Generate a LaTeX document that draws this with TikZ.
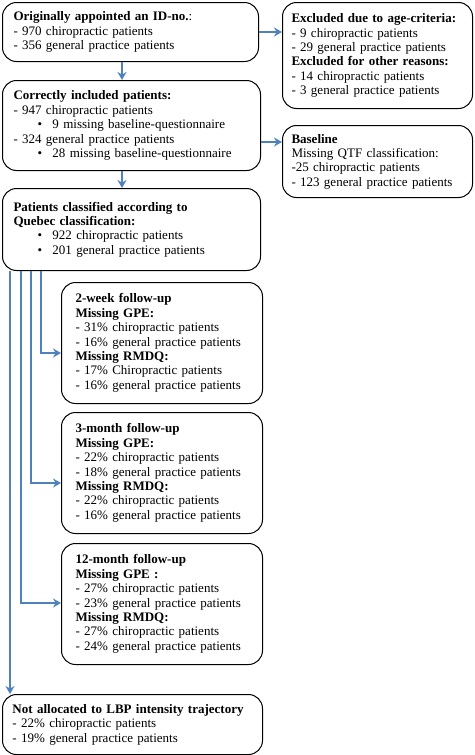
\documentclass[tikz,border=0pt]{standalone}
\usepackage{fontspec}
\setmainfont{Liberation Serif}
\usetikzlibrary{arrows.meta}

\definecolor{flowblue}{HTML}{4F81BD}

\newcommand{\bitem}{\hspace*{24pt}\makebox[15pt][l]{\textbullet}}

\tikzset{
  flowbox/.style={draw, line width=1pt, rounded corners=14pt, align=left,
    anchor=north west, inner xsep=11pt, inner ysep=2pt,
    font=\fontsize{13}{14.4}\selectfont},
  flowarrow/.style={draw=flowblue, line width=2.2pt,
    -{Stealth[length=8pt,width=9pt]}}
}

\begin{document}
\begin{tikzpicture}[x=1pt,y=-1pt]
  \useasboundingbox (0,0) rectangle (474,755);

  %%%% left column
  \node[flowbox, text width=234pt, minimum height=59pt] (orig) at (2,2)
    {\textbf{Originally appointed an ID-no.}:\\
     - 970 chiropractic patients\\
     - 356 general practice patients};

  \node[flowbox, text width=236pt, minimum height=90pt] (incl) at (2,80)
    {\textbf{Correctly included patients:}\\
     - 947 chiropractic patients\\
     \bitem 9 missing baseline-questionnaire\\
     - 324 general practice patients\\
     \bitem 28 missing baseline-questionnaire};

  \node[flowbox, text width=236pt, minimum height=82pt] (quebec) at (2,188)
    {\textbf{Patients classified according to}\\
     \textbf{Quebec classification:}\\
     \bitem 922 chiropractic patients\\
     \bitem 201 general practice patients};

  %%%% right column
  \node[flowbox, inner xsep=9pt, text width=172pt, minimum height=106pt] (excl) at (282,2)
    {\textbf{Excluded due to age-criteria:}\\
     - 9 chiropractic patients\\
     - 29 general practice patients\\
     \textbf{Excluded for other reasons:}\\
     - 14 chiropractic patients\\
     - 3 general practice patients};

  \node[flowbox, inner xsep=9pt, text width=172pt, minimum height=72pt] (base) at (282,125)
    {\textbf{Baseline}\\
     Missing QTF classification:\\
     -25 chiropractic patients\\
     - 123 general practice patients};

  %%%% follow-up
  \node[flowbox, inner xsep=14pt, text width=173pt, minimum height=121pt] (fuweek) at (61,282)
    {\textbf{2-week follow-up}\\
     \textbf{Missing GPE:}\\
     - 31\% chiropractic patients\\
     - 16\% general practice patients\\
     \textbf{Missing RMDQ:}\\
     - 17\% Chiropractic patients\\
     - 16\% general practice patients};

  \node[flowbox, inner xsep=14pt, text width=173pt, minimum height=121pt] (fumonth) at (61,412)
    {\textbf{3-month follow-up}\\
     \textbf{Missing GPE:}\\
     - 22\% chiropractic patients\\
     - 18\% general practice patients\\
     \textbf{Missing RMDQ:}\\
     - 22\% chiropractic patients\\
     - 16\% general practice patients};

  \node[flowbox, inner xsep=14pt, text width=173pt, minimum height=121pt] (fuyear) at (61,543)
    {\textbf{12-month follow-up}\\
     \textbf{Missing GPE :}\\
     - 27\% chiropractic patients\\
     - 23\% general practice patients\\
     \textbf{Missing RMDQ:}\\
     - 27\% chiropractic patients\\
     - 24\% general practice patients};

  \node[flowbox, inner xsep=10pt, text width=240pt, minimum height=60pt] (notalloc) at (2,694)
    {\textbf{Not allocated to LBP intensity trajectory}\\
     - 22\% chiropractic patients\\
     - 19\% general practice patients};

  %%%% arrows
  \draw[flowarrow] (orig.south -| 122,0) -- (incl.north -| 122,0);
  \draw[flowarrow] (incl.south -| 122,0) -- (quebec.north -| 122,0);
  \draw[flowarrow] (orig.east |- 0,32) -- (excl.west |- 0,32);
  \draw[flowarrow] (incl.east |- 0,142) -- (base.west |- 0,142);

  \draw[flowarrow] (quebec.south -| 41,0) |- (fuweek.west |- 0,353);
  \draw[flowarrow] (quebec.south -| 31,0) |- (fumonth.west |- 0,483);
  \draw[flowarrow] (quebec.south -| 21,0) |- (fuyear.west |- 0,603);
  \draw[flowarrow] (quebec.south -| 10,0) -- (notalloc.north -| 10,0);
\end{tikzpicture}
\end{document}
